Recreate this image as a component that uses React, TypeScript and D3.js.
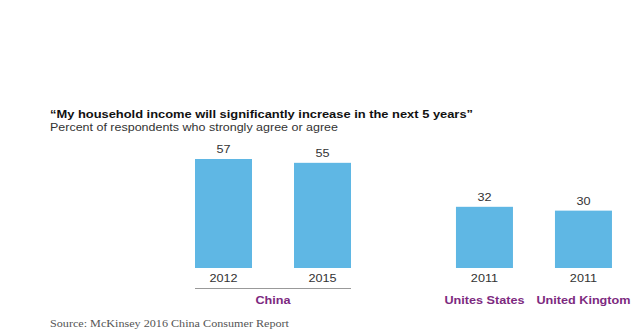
import React from "react";
import * as d3 from "d3";

const categories = ["2012", "2015", "2011", "2011"];
const groups = ["China", "China", "Unites States", "United Kingtom"];
const values = [57, 55, 32, 30];
const slots = [0, 1, 2.636, 3.636];
const groupLabels = ["China", "Unites States", "United Kingtom"];

const title = "\u201CMy household income will significantly increase in the next 5 years\u201D";
const subtitle = "Percent of respondents who strongly agree or agree";
const source = "Source: McKinsey 2016 China Consumer Report";

const W = 640, H = 330;
const BAR = "#5FB7E4";
const PURPLE = "#7D2A7F";
const TXT = "#333333";
const SX = 1.15;

function SText(props: any) {
  const { x, y, children, ...rest } = props;
  return (
    <g transform={`translate(${x},${y}) scale(${SX},1)`}>
      <text x={0} y={0} {...rest}>{children}</text>
    </g>
  );
}

export default function App() {
  const barW = 57;
  const x = d3.scaleLinear().domain([0, 1]).range([195, 294]);
  const y = d3.scaleLinear().domain([0, 57]).range([268, 159]);
  const font = "'Liberation Sans', Arial, Helvetica, sans-serif";

  const groupCenters = groupLabels.map((g) => {
    const idx = groups.map((gg, i) => (gg === g ? i : -1)).filter((i) => i >= 0);
    const xs = idx.map((i) => x(slots[i]));
    return { g, x0: d3.min(xs)!, x1: d3.max(xs)! + barW, n: idx.length };
  });

  return (
    <svg width={W} height={H} style={{ position: "absolute", left: 0, top: 0, background: "#fff" }}>
      <rect width={W} height={H} fill="#fff" />
      <text x={50} y={118} fontFamily={font} fontWeight="bold" fontSize={10.5} fill="#111" textLength={423} lengthAdjust="spacingAndGlyphs">{title}</text>
      <text x={50} y={131} fontFamily={font} fontSize={10.5} fill={TXT} textLength={288} lengthAdjust="spacingAndGlyphs">{subtitle}</text>
      {values.map((v, i) => (
        <g key={i}>
          <rect x={x(slots[i])} y={y(v)} width={barW} height={y(0) - y(v)} fill={BAR} />
          <SText x={x(slots[i]) + barW / 2} y={y(v) - 6} textAnchor="middle" fontFamily={font} fontSize={11} fill={TXT}>{v}</SText>
          <SText x={x(slots[i]) + barW / 2} y={282} textAnchor="middle" fontFamily={font} fontSize={11} fill={TXT}>{categories[i]}</SText>
        </g>
      ))}
      {groupCenters.map((gc) => (
        <g key={gc.g}>
          {gc.n > 1 && <line x1={gc.x0} x2={gc.x1} y1={288.5} y2={288.5} stroke="#999" strokeWidth={1} />}
          <SText x={(gc.x0 + gc.x1) / 2} y={304} textAnchor="middle" fontFamily={font} fontWeight="bold" fontSize={11} fill={PURPLE}>{gc.g}</SText>
        </g>
      ))}
      <text x={50} y={327} fontFamily="'Liberation Serif', 'DejaVu Serif', serif" fontSize={10} fill="#555" textLength={239} lengthAdjust="spacingAndGlyphs">{source}</text>
    </svg>
  );
}
